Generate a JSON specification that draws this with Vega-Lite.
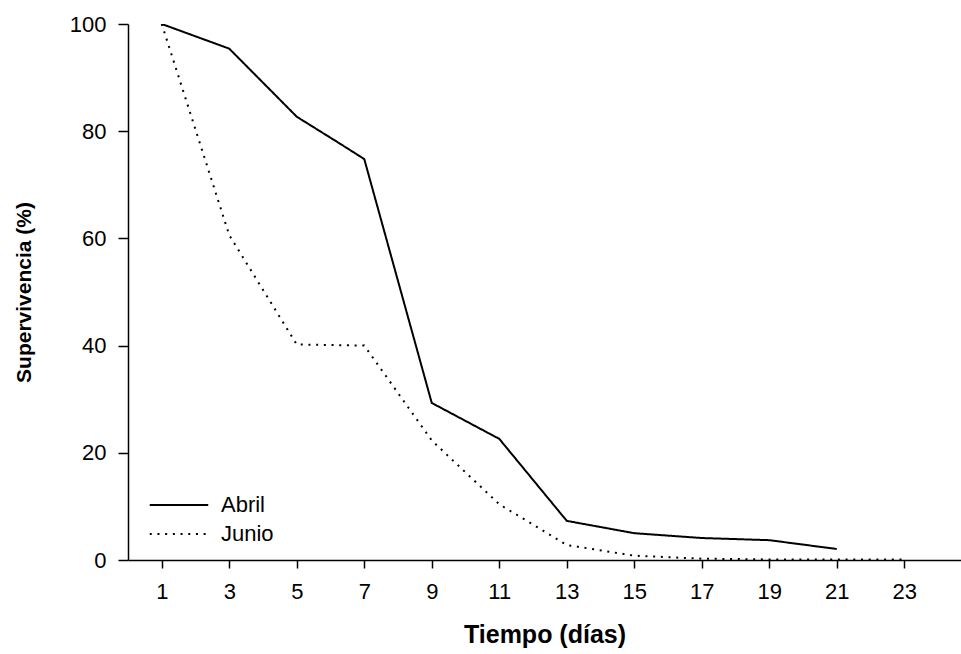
{
  "$schema": "https://vega.github.io/schema/vega-lite/v6.json",
  "width": 833,
  "height": 536,
  "autosize": {"type": "none"},
  "padding": {"left": 128, "top": 24, "right": 0, "bottom": 94},
  "background": "white",
  "config": {
    "view": {"stroke": null},
    "font": "Liberation Sans",
    "axis": {
      "domainColor": "black",
      "domainWidth": 1.5,
      "tickColor": "black",
      "tickWidth": 1.5,
      "labelColor": "black",
      "labelFont": "Liberation Sans",
      "labelFontSize": 22,
      "titleColor": "black",
      "titleFont": "Liberation Sans",
      "titleFontWeight": "bold",
      "grid": false
    },
    "legend": {
      "labelFont": "Liberation Sans",
      "labelColor": "black",
      "labelFontSize": 22
    }
  },
  "data": {
    "values": [
      {"dia": 1, "supervivencia": 100, "mes": "Abril"},
      {"dia": 3, "supervivencia": 95.4, "mes": "Abril"},
      {"dia": 5, "supervivencia": 82.7, "mes": "Abril"},
      {"dia": 6.3, "supervivencia": 77.6, "mes": "Abril"},
      {"dia": 7, "supervivencia": 74.8, "mes": "Abril"},
      {"dia": 9, "supervivencia": 29.3, "mes": "Abril"},
      {"dia": 11, "supervivencia": 22.6, "mes": "Abril"},
      {"dia": 13, "supervivencia": 7.3, "mes": "Abril"},
      {"dia": 15, "supervivencia": 5.0, "mes": "Abril"},
      {"dia": 17, "supervivencia": 4.1, "mes": "Abril"},
      {"dia": 19, "supervivencia": 3.7, "mes": "Abril"},
      {"dia": 21, "supervivencia": 2.05, "mes": "Abril"},
      {"dia": 1, "supervivencia": 100, "mes": "Junio"},
      {"dia": 3, "supervivencia": 60.6, "mes": "Junio"},
      {"dia": 5, "supervivencia": 40.2, "mes": "Junio"},
      {"dia": 7, "supervivencia": 40.0, "mes": "Junio"},
      {"dia": 9, "supervivencia": 22.3, "mes": "Junio"},
      {"dia": 11, "supervivencia": 10.4, "mes": "Junio"},
      {"dia": 13, "supervivencia": 2.8, "mes": "Junio"},
      {"dia": 15, "supervivencia": 0.8, "mes": "Junio"},
      {"dia": 17, "supervivencia": 0.25, "mes": "Junio"},
      {"dia": 19, "supervivencia": 0.1, "mes": "Junio"},
      {"dia": 21, "supervivencia": 0.1, "mes": "Junio"},
      {"dia": 23, "supervivencia": 0.1, "mes": "Junio"}
    ]
  },
  "mark": {"type": "line", "color": "black", "strokeWidth": 2, "strokeCap": "butt", "clip": true},
  "encoding": {
    "x": {
      "field": "dia",
      "type": "quantitative",
      "scale": {"domain": [0, 24.68], "nice": false, "zero": false},
      "axis": {
        "values": [1, 3, 5, 7, 9, 11, 13, 15, 17, 19, 21, 23],
        "tickSize": 8,
        "labelPadding": 13,
        "title": "Tiempo (días)",
        "titleFontSize": 25,
        "titlePadding": 20
      }
    },
    "y": {
      "field": "supervivencia",
      "type": "quantitative",
      "scale": {"domain": [0, 100], "nice": false},
      "axis": {
        "values": [0, 20, 40, 60, 80, 100],
        "tickSize": 10,
        "labelPadding": 12,
        "title": "Supervivencia (%)",
        "titleFontSize": 21,
        "titlePadding": 35
      }
    },
    "strokeDash": {
      "field": "mes",
      "type": "nominal",
      "scale": {"domain": ["Abril", "Junio"], "range": [[1, 0], [2, 5.7]]},
      "legend": {
        "title": null,
        "orient": "none",
        "legendX": 35,
        "legendY": 465,
        "symbolType": "M-1.95,0L1.95,0",
        "symbolSize": 900,
        "symbolStrokeWidth": 2,
        "symbolStrokeColor": "black",
        "labelOffset": 26,
        "rowPadding": 2
      }
    }
  }
}
